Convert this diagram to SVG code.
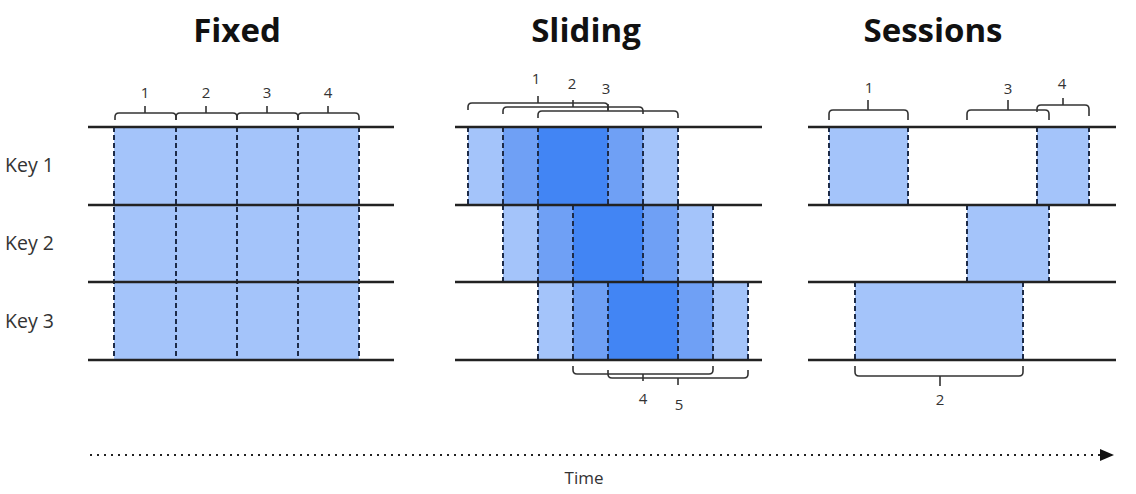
<svg xmlns="http://www.w3.org/2000/svg" width="1136" height="494" viewBox="0 0 1136 494">
<style>
.title{font-family:"Open Sans","Liberation Sans",sans-serif;font-weight:bold;font-size:33px;fill:#111;text-anchor:middle}
.key{font-family:"Open Sans","Liberation Sans",sans-serif;font-size:19.5px;fill:#333}
.num{font-family:"Open Sans","Liberation Sans",sans-serif;font-size:15px;fill:#333;text-anchor:middle}
.l1{fill:#a4c4fa}
.l2{fill:#6fa0f5}
.l3{fill:#4285f4}
.hl{stroke:#222;stroke-width:2.5;fill:none}
.dash{stroke:#1d2b48;stroke-width:2;stroke-dasharray:5 3;fill:none}
.brace{stroke:#333;stroke-width:1.6;fill:none}
.time{stroke:#222;stroke-width:2.2;stroke-dasharray:2 5;fill:none}
</style>
<rect width="1136" height="494" fill="#fff"/>

<g id="titles">
<text class="title" x="237" y="42">Fixed</text>
<text class="title" x="586" y="42">Sliding</text>
<text class="title" x="933" y="42">Sessions</text>
</g>

<g id="keys">
<text class="key" x="5" y="172">Key 1</text>
<text class="key" x="5" y="250">Key 2</text>
<text class="key" x="5" y="328">Key 3</text>
</g>

<g id="fixed">
<rect class="l1" x="114" y="127" width="245" height="233"/>
<path class="dash" d="M114,127V360M176,127V360M237,127V360M298,127V360M359,127V360"/>
<path class="hl" d="M88,127H394M88,205H394M88,282H394M88,360H394"/>
<path class="brace" d="M115,120V117Q115,113 119,113H172Q176,113 176,117V120M145,113V106"/>
<path class="brace" d="M176,120V117Q176,113 180,113H233Q237,113 237,117V120M206,113V106"/>
<path class="brace" d="M237,120V117Q237,113 241,113H294Q298,113 298,117V120M267,113V106"/>
<path class="brace" d="M298,120V117Q298,113 302,113H355Q359,113 359,117V120M328,113V106"/>
<text class="num" x="145" y="98">1</text>
<text class="num" x="206" y="98">2</text>
<text class="num" x="267" y="98">3</text>
<text class="num" x="328" y="98">4</text>
</g>

<g id="sliding">
<rect class="l1" x="468" y="127" width="35" height="78"/>
<rect class="l2" x="503" y="127" width="35" height="78"/>
<rect class="l3" x="538" y="127" width="70" height="78"/>
<rect class="l2" x="608" y="127" width="35" height="78"/>
<rect class="l1" x="643" y="127" width="35" height="78"/>
<rect class="l1" x="503" y="205" width="35" height="77"/>
<rect class="l2" x="538" y="205" width="35" height="77"/>
<rect class="l3" x="573" y="205" width="70" height="77"/>
<rect class="l2" x="643" y="205" width="35" height="77"/>
<rect class="l1" x="678" y="205" width="35" height="77"/>
<rect class="l1" x="538" y="282" width="35" height="78"/>
<rect class="l2" x="573" y="282" width="35" height="78"/>
<rect class="l3" x="608" y="282" width="70" height="78"/>
<rect class="l2" x="678" y="282" width="35" height="78"/>
<rect class="l1" x="713" y="282" width="35" height="78"/>
<path class="dash" d="M468,127V205M503,127V205M538,127V205M608,127V205M643,127V205M678,127V205"/>
<path class="dash" d="M503,205V282M538,205V282M573,205V282M643,205V282M678,205V282M713,205V282"/>
<path class="dash" d="M538,282V360M573,282V360M608,282V360M678,282V360M713,282V360M748,282V360"/>
<path class="hl" d="M455,127H762M455,205H762M455,282H762M455,360H762"/>
<path class="brace" d="M468,110V107Q468,103 472,103H604Q608,103 608,107V110M538,103V96"/>
<path class="brace" d="M503,114V111Q503,107 507,107H639Q643,107 643,111V114M573,107V100"/>
<path class="brace" d="M538,118V115Q538,111 542,111H674Q678,111 678,115V118M608,111V104"/>
<text class="num" x="536" y="84">1</text>
<text class="num" x="572" y="89">2</text>
<text class="num" x="606" y="94">3</text>
<path class="brace" d="M573,366V370Q573,374 577,374H709Q713,374 713,370V366M643,374V381"/>
<path class="brace" d="M608,370V374Q608,378 612,378H744Q748,378 748,374V370M678,378V385"/>
<text class="num" x="643" y="404">4</text>
<text class="num" x="679" y="410">5</text>
</g>

<g id="sessions">
<rect class="l1" x="829" y="127" width="79" height="78"/>
<rect class="l1" x="1037" y="127" width="52" height="78"/>
<rect class="l1" x="967" y="205" width="82" height="77"/>
<rect class="l1" x="855" y="282" width="168" height="78"/>
<path class="dash" d="M829,127V205M908,127V205M1037,127V205M1089,127V205M967,205V282M1049,205V282M855,282V360M1023,282V360"/>
<path class="hl" d="M808,127H1116M808,205H1116M808,282H1116M808,360H1116"/>
<path class="brace" d="M829,120V114Q829,110 833,110H904Q908,110 908,114V120M868,110V100"/>
<path class="brace" d="M967,120V114Q967,110 971,110H1045Q1049,110 1049,114V120M1008,110V100"/>
<path class="brace" d="M1037,112V109Q1037,105 1041,105H1085Q1089,105 1089,109V116M1063,105V98"/>
<text class="num" x="869" y="93">1</text>
<text class="num" x="1008" y="94">3</text>
<text class="num" x="1062" y="89">4</text>
<path class="brace" d="M855,366V372Q855,376 859,376H1019Q1023,376 1023,372V366M940,376V386"/>
<text class="num" x="940" y="405">2</text>
</g>

<g id="connectors">
<path class="time" d="M90,455H1100"/>
<path d="M1100,449L1114,455L1100,461z" fill="#111"/>
</g>
<text class="key" x="584" y="484" text-anchor="middle" style="font-size:17px">Time</text>
</svg>
